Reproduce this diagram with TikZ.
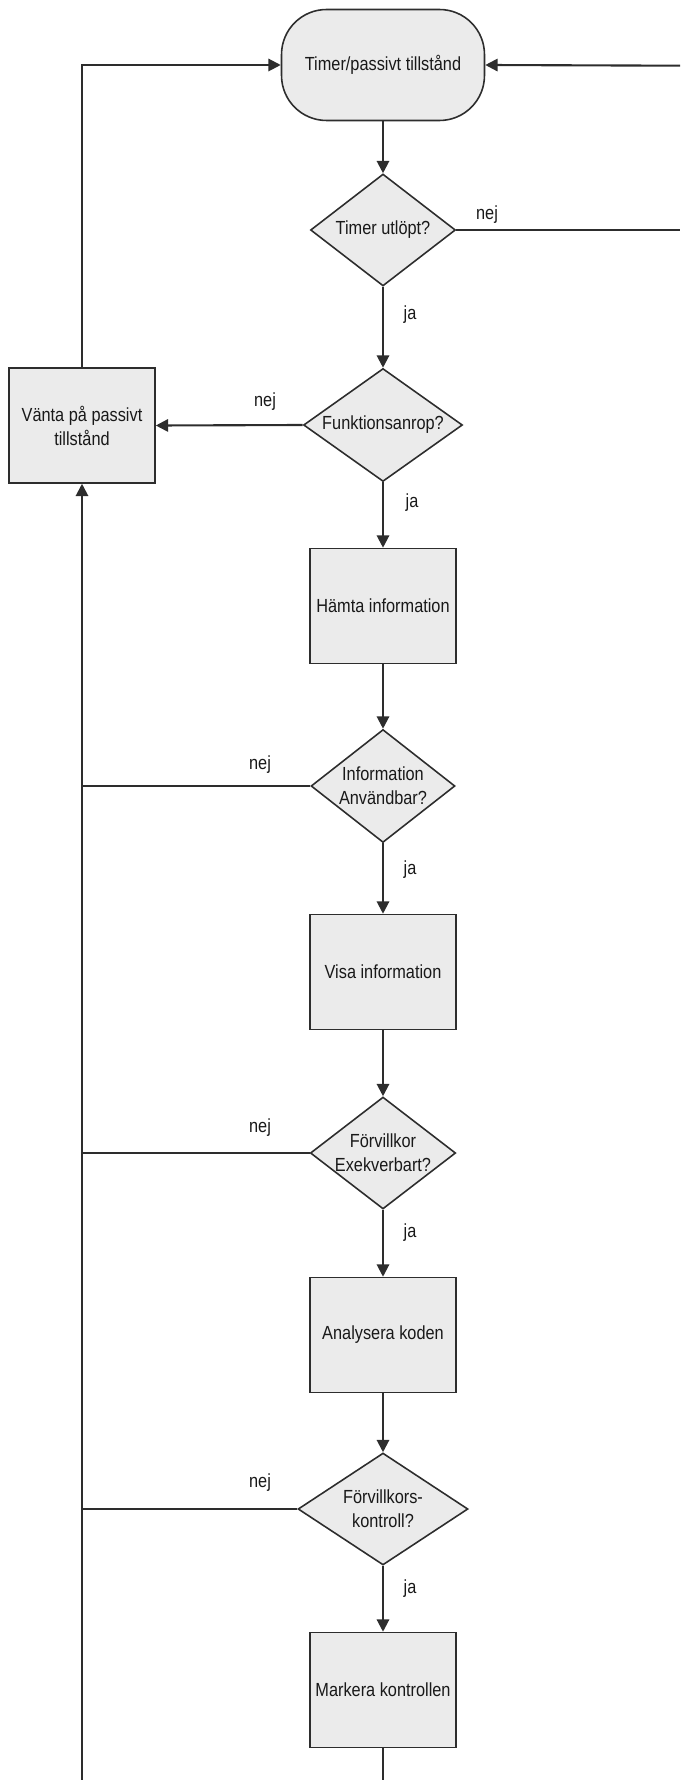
\documentclass[tikz,border=0pt]{standalone}
\usepackage{fontspec}
\setmainfont[FakeStretch=0.86]{Liberation Sans}
\usepackage{xcolor}
\usepackage{tikz}
\usetikzlibrary{
  shapes.geometric, arrows.meta, positioning, calc
}
\definecolor{boxfill}{RGB}{235,235,235}
\definecolor{boxline}{RGB}{45,45,45}
\tikzset{
  flowtext/.style={
    font=\fontsize{10.8}{13.6}\selectfont, text=black!90
  },
  procbox/.style={
    draw=boxline, line width=0.9pt, fill=boxfill, align=center,
    flowtext, minimum width=2.92cm, minimum height=2.3cm, inner sep=2pt
  },
  termbox/.style={
    draw=boxline, line width=0.9pt, fill=boxfill, align=center,
    flowtext, rounded corners=0.9cm,
    minimum width=4.06cm, minimum height=2.22cm
  },
  decbox/.style={
    diamond, draw=boxline, line width=0.9pt, fill=boxfill, align=center,
    flowtext, inner sep=0pt, aspect=1.3,
    minimum width=2.9cm, minimum height=2.24cm
  },
  flowarrow/.style={
    -{Triangle[length=7pt, width=7pt]}, line width=1.2pt, draw=boxline
  },
  flowline/.style={
    line width=1.2pt, draw=boxline
  },
  answerlabel/.style={
    flowtext, inner sep=0pt
  },
}

\begin{document}
\begin{tikzpicture}[x=0.02cm, y=-0.02cm]
  \useasboundingbox (0,0) rectangle (680,1780);

  % ---- main column ----
  \node[termbox] (idle) at (383,65) {Timer/passivt tillstånd};
  \node[decbox] (timer) at (383,230) {Timer utlöpt?};
  \node[decbox, minimum width=3.18cm, minimum height=2.26cm] (call) at (383,425)
    {Funktionsanrop?};
  \node[procbox] (fetch) at (383,606) {Hämta information};
  \node[decbox, minimum width=2.88cm, minimum height=2.26cm] (usable) at (383,786)
    {Information\\Användbar?};
  \node[procbox] (show) at (383,972) {Visa information};
  \node[decbox, minimum width=2.88cm] (exec) at (383,1153)
    {Förvillkor\\Exekverbart?};
  \node[procbox] (analyse) at (383,1335) {Analysera koden};
  \node[decbox, minimum width=3.4cm] (check) at (383,1509)
    {Förvillkors-\\kontroll?};
  \node[procbox] (mark) at (383,1690) {Markera kontrollen};

  % ---- wait box on the left ----
  \node[procbox] (wait) at (82,425.5) {Vänta på passivt\\tillstånd};

  % free ends at the picture's edges
  \coordinate (lbot) at (82,1780);
  \coordinate (mbot) at (383,1780);
  \coordinate (rtop) at (680,65.7);
  \coordinate (rmid) at (680,230);

  % ---- down the main column ----
  \draw[flowarrow] (idle) -- (timer);
  \draw[flowarrow] (timer) -- (call);
  \draw[flowarrow] (call) -- (fetch);
  \draw[flowarrow] (fetch) -- (usable);
  \draw[flowarrow] (usable) -- (show);
  \draw[flowarrow] (show) -- (exec);
  \draw[flowarrow] (exec) -- (analyse);
  \draw[flowarrow] (analyse) -- (check);
  \draw[flowarrow] (check) -- (mark);
  \draw[flowline] (mark) -- (mbot);

  % ---- "nej" branches ----
  \draw[flowline] (timer.east) -- (rmid);
  \draw[flowarrow] (rtop) -- (idle.east);
  \draw[flowarrow] (call.west) -- (wait.east);
  \draw[flowline] (usable.west) -- (usable.west -| wait);
  \draw[flowline] (exec.west) -- (exec.west -| wait);
  \draw[flowline] (check.west) -- (check.west -| wait);
  \draw[flowarrow] (lbot) -- (wait.south);
  \draw[flowarrow] (wait.north) |- (idle.west);

  % ---- labels ----
  \node[answerlabel] (nej1) at (487,215) {nej};
  \node[answerlabel] (ja1) at (410,315) {ja};
  \node[answerlabel] (nej2) at (265,402) {nej};
  \node[answerlabel] (ja2) at (412,503) {ja};
  \node[answerlabel] (nej3) at (260,765) {nej};
  \node[answerlabel] (ja3) at (410,870) {ja};
  \node[answerlabel] (nej4) at (260,1128) {nej};
  \node[answerlabel] (ja4) at (410,1233) {ja};
  \node[answerlabel] (nej5) at (260,1483) {nej};
  \node[answerlabel] (ja5) at (410,1589) {ja};
\end{tikzpicture}
\end{document}
